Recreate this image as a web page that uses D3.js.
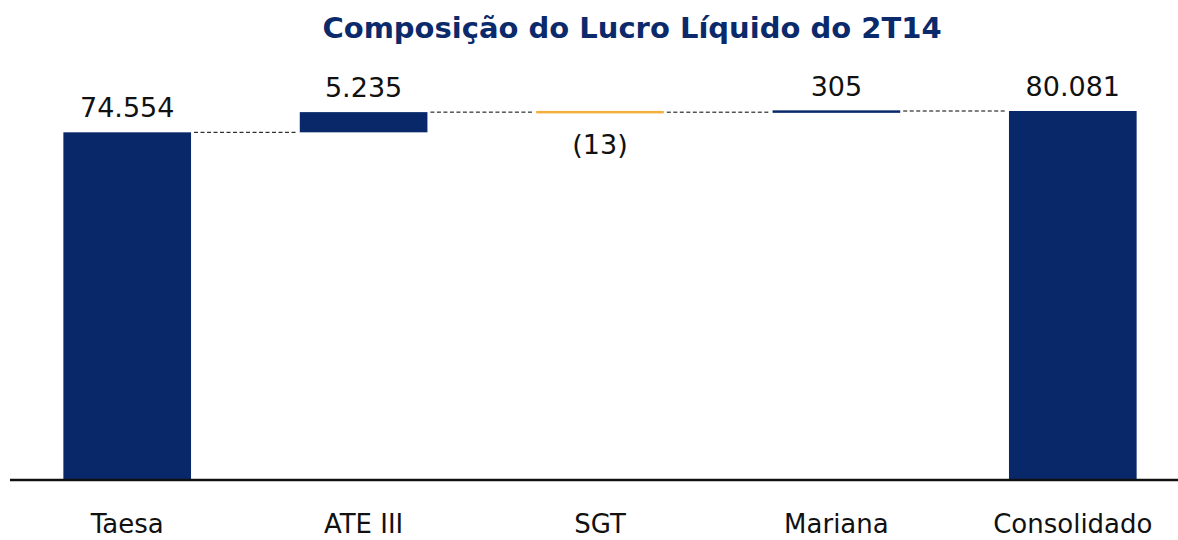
<!DOCTYPE html>
<html>
<head>
<meta charset="utf-8">
<script src="https://cdn.jsdelivr.net/npm/d3@7"></script>
<style>
  html, body { margin: 0; padding: 0; background: #ffffff; }
  svg { display: block; }
</style>
</head>
<body>
<svg id="chart" width="1178" height="540"></svg>
<script>
// ---- data ----
const title = "Composição do Lucro Líquido do 2T14";
const categories = ["Taesa", "ATE III", "SGT", "Mariana", "Consolidado"];
const values = [74554, 5235, -13, 305, 80081];
const kinds = ["total", "delta", "delta", "delta", "total"];
const valueLabels = ["74.554", "5.235", "(13)", "305", "80.081"];
const axisMin = -15600;

// ---- layout ----
const W = 1178, H = 540;
const baseY = 480, topY = 111;
const navy = "#08286a", orange = "#f4b03e";
const svg = d3.select("#chart");

const x = d3.scaleBand().domain(categories).range([9, 1191])
  .paddingInner(0.46).paddingOuter(0.23);
const y = d3.scaleLinear().domain([axisMin, d3.max(values)]).range([baseY, topY]);

// compute waterfall segments
let running = 0;
const segs = categories.map((c, i) => {
  let start, end;
  if (kinds[i] === "total") { start = axisMin; end = values[i]; running = values[i]; }
  else { start = running; end = running + values[i]; running = end; }
  return { cat: c, start, end, value: values[i], kind: kinds[i], label: valueLabels[i], total: running };
});

const minH = 2.5;
svg.selectAll("rect.bar").data(segs).enter().append("rect")
  .attr("class", "bar")
  .attr("x", d => x(d.cat))
  .attr("width", x.bandwidth())
  .attr("y", d => {
    const top = Math.min(y(d.start), y(d.end));
    const h = Math.abs(y(d.start) - y(d.end));
    return h < minH ? (top + h / 2 - minH / 2) : top;
  })
  .attr("height", d => Math.max(minH, Math.abs(y(d.start) - y(d.end))))
  .attr("fill", d => d.value < 0 ? orange : navy);

// connectors
const conns = segs.slice(0, -1).map((d, i) => ({ from: d.cat, to: segs[i + 1].cat, level: d.total }));
svg.selectAll("line.conn").data(conns).enter().append("line")
  .attr("class", "conn")
  .attr("x1", d => x(d.from) + x.bandwidth() + 3)
  .attr("x2", d => x(d.to) - 4)
  .attr("y1", d => y(d.level))
  .attr("y2", d => y(d.level))
  .attr("stroke", "#000")
  .attr("stroke-width", 1)
  .attr("stroke-dasharray", "4,2.5");

// value labels
svg.selectAll("text.val").data(segs).enter().append("text")
  .attr("class", "val")
  .attr("x", d => x(d.cat) + x.bandwidth() / 2)
  .attr("y", d => d.value < 0 ? y(Math.min(d.start, d.end)) + 42 : y(Math.max(d.start, d.end)) - 15)
  .attr("text-anchor", "middle")
  .attr("font-family", "DejaVu Sans, Verdana, sans-serif")
  .attr("font-size", 27)
  .attr("fill", "#111")
  .text(d => d.label);

// x axis
const xAxis = d3.axisBottom(x).tickSize(0).tickPadding(0);
const gx = svg.append("g").attr("transform", `translate(0,${baseY})`).call(xAxis);
gx.select(".domain").remove();
gx.selectAll("text")
  .attr("y", 53)
  .attr("dy", 0)
  .attr("font-family", "DejaVu Sans, Verdana, sans-serif")
  .attr("font-size", 26)
  .attr("fill", "#111");
svg.append("line")
  .attr("x1", 10).attr("x2", W)
  .attr("y1", baseY).attr("y2", baseY)
  .attr("stroke", "#111").attr("stroke-width", 2.5);

// title
svg.append("text")
  .attr("x", 632).attr("y", 38)
  .attr("text-anchor", "middle")
  .attr("font-family", "DejaVu Sans, Verdana, sans-serif")
  .attr("font-weight", "bold")
  .attr("font-size", 29)
  .attr("fill", "#0b2a6b")
  .text(title);
</script>
</body>
</html>
